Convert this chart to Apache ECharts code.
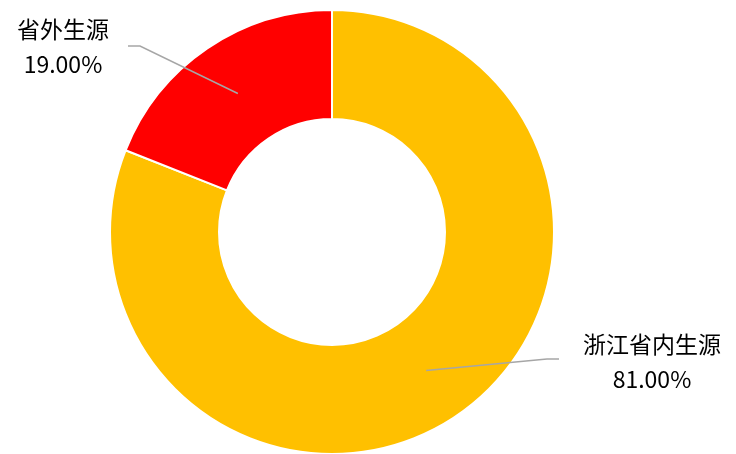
<!DOCTYPE html>
<html>
<head>
<meta charset="utf-8">
<script src="https://cdn.jsdelivr.net/npm/echarts@6/dist/echarts.min.js"></script>
<style>
  html, body { margin: 0; padding: 0; background: #fff; }
  #chart { width: 736px; height: 454px; }
</style>
</head>
<body>
<div id="chart"></div>
<script>
// 数据
var names = ["浙江省内生源", "省外生源"];
var values = [81, 19];
var colors = ["#FFC000", "#FF0000"];

// 环形图几何
var cx = 332, cy = 232, rIn = 113, rOut = 222;

// 标签位置（文字中心）及引导线拐点
var labelSpots = [
  { x: 652, y: 362, elbow: [547, 359], end: [559, 359] },
  { x: 63, y: 47, elbow: [140, 46], end: [128, 46] }
];

var pieData = names.map(function (n, i) {
  return { name: n, value: values[i] };
});

var chart = echarts.init(document.getElementById("chart"));

chart.setOption({
  animation: false,
  color: colors,
  series: [
    // 环形本体
    {
      type: "pie",
      z: 2,
      center: [cx, cy],
      radius: [rIn, rOut],
      startAngle: 90,
      clockwise: true,
      silent: true,
      itemStyle: { borderColor: "#fff", borderWidth: 2 },
      label: { show: false },
      labelLine: { show: false },
      data: pieData
    },
    // 透明的一层，只画标签和引导线（压在环上面）
    {
      type: "pie",
      z: 5,
      center: [cx, cy],
      radius: [rIn, rOut],
      startAngle: 90,
      clockwise: true,
      silent: true,
      avoidLabelOverlap: false,
      itemStyle: { color: "transparent", borderWidth: 0 },
      label: {
        show: true,
        position: "outside",
        color: "#000",
        fontFamily: "Noto Sans CJK SC",
        fontSize: 23,
        lineHeight: 35,
        align: "center",
        formatter: function (p) {
          return p.name + "\n" + p.percent.toFixed(2) + "%";
        }
      },
      labelLine: {
        show: true,
        length: 10,
        length2: 10,
        lineStyle: { color: "#a6a6a6", width: 1.5 }
      },
      labelLayout: function (params) {
        var spot = labelSpots[params.dataIndex];
        var p0 = params.labelLinePoints[0];
        // 把引导线起点移到环的中间
        var k = (rIn + rOut) / 2 / Math.hypot(p0[0] - cx, p0[1] - cy);
        var start = [cx + (p0[0] - cx) * k, cy + (p0[1] - cy) * k];
        return {
          x: spot.x,
          y: spot.y,
          align: "center",
          verticalAlign: "middle",
          labelLinePoints: [start, spot.elbow, spot.end]
        };
      },
      data: pieData
    }
  ]
});
</script>
</body>
</html>
